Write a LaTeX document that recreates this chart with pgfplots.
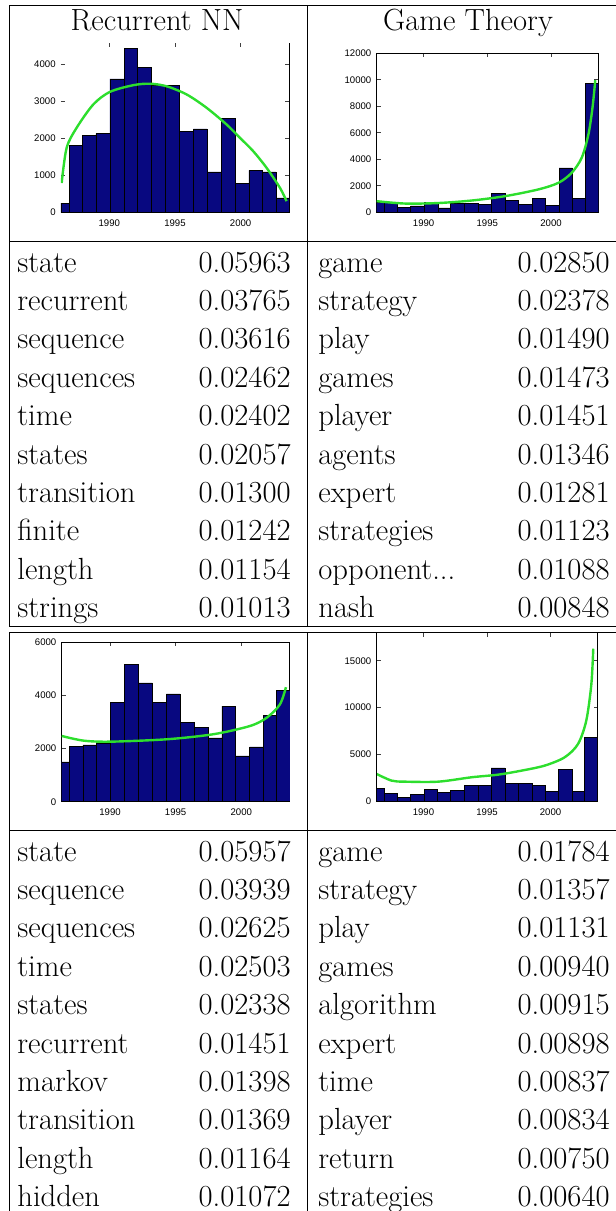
\documentclass[border=0pt]{standalone}
\usepackage{fontspec}
\usepackage{pgfplots}
\pgfplotsset{compat=1.18}
\newfontfamily\tickfont{Liberation Sans}
\definecolor{barblue}{RGB}{8,8,128}
\definecolor{fitgreen}{RGB}{45,222,45}
\newcommand\opp{opponent...}

\pgfplotsset{hist/.style={
  scale only axis, anchor=south west,
  xmin=1986.32, xmax=2003.71, ymin=0,
  xtick={1990,1995,2000},
  tick align=inside, major tick length=2pt,
  scaled ticks=false,
  /pgf/number format/1000 sep={},
  /pgf/number format/assume math mode=true,
  ticklabel style={font=\tickfont\fontsize{4.8}{5}\selectfont, inner sep=0pt, text=black},
  xticklabel style={yshift=-3.5pt},
  yticklabel style={xshift=-2.5pt},
  axis line style={line width=0.5pt},
  tick style={line width=0.4pt, black!75},
  clip mode=individual},
  bars/.style={ybar interval, fill=barblue, draw=black, line width=0.3pt},
  fit/.style={smooth, fitgreen, line width=1.2pt, no marks}}

\begin{document}
\begin{tikzpicture}[x=0.5pt, y=-0.5pt, wd/.style={font=\fontsize{15.3}{18}\selectfont, inner sep=0pt}]
\path[use as bounding box] (0,0) rectangle (616,1211);

% table rules
\begin{scope}[line width=0.5pt]
\draw (9,5) -- (632,5);
\draw (9,241) -- (632,241);
\draw (9,626) -- (632,626);
\draw (9,632) -- (632,632);
\draw (9,830) -- (632,830);
\foreach \x in {9,307,629} {
  \draw (\x,5) -- (\x,626);
  \draw (\x,632) -- (\x,1220);
}
\end{scope}

\node[wd, anchor=base] at (157,30) {Recurrent NN};
\node[wd, anchor=base] at (468,30) {Game Theory};

% upper left: Recurrent NN
\begin{axis}[hist, at={(30.5pt,-106.15pt)}, width=114.15pt, height=84.5pt,
  ymax=4560, ytick={0,1000,2000,3000,4000}, axis line style={draw=none}]
\addplot[bars] coordinates {
 (1986.32,250) (1986.93,1800) (1987.94,2070) (1988.98,2120) (1990.05,3600)
 (1991.12,4420) (1992.13,3900) (1993.22,3430) (1994.29,3430) (1995.33,2190)
 (1996.40,2250) (1997.46,1090) (1998.53,2530) (1999.57,790) (2000.63,1130)
 (2001.68,1090) (2002.69,390) (2003.71,0)};
\addplot[fit] coordinates {
 (1986.37,790) (1986.75,1740) (1987.51,2280) (1988.78,2910) (1990.05,3250)
 (1991.83,3430) (1993.10,3470) (1994.37,3400) (1995.89,3180) (1997.41,2820)
 (1998.93,2370) (1999.95,2010) (2000.96,1650) (2001.98,1200) (2003.00,660)
 (2003.50,300)};
\draw[line width=0.5pt] (rel axis cs:0,0) -- (rel axis cs:1,0) -- (rel axis cs:1,1);
\end{axis}

% upper right: Game Theory
\begin{axis}[hist, at={(188.35pt,-106.15pt)}, width=110.8pt, height=79.5pt,
  ymax=12000, ytick={0,2000,4000,6000,8000,10000,12000}]
\addplot[bars] coordinates {
 (1986.32,750) (1986.93,750) (1987.94,350) (1988.98,480) (1990.05,725)
 (1991.12,340) (1992.13,680) (1993.22,680) (1994.29,600) (1995.33,1435)
 (1996.40,880) (1997.46,600) (1998.53,1060) (1999.57,500) (2000.63,3350)
 (2001.68,1060) (2002.69,9700) (2003.71,0)};
\addplot[fit] coordinates {
 (1986.32,840) (1988.55,660) (1991.16,700) (1993.78,890) (1996.40,1220)
 (1999.02,1730) (2000.59,2230) (2001.63,2990) (2002.42,4140) (2002.94,5910)
 (2003.26,7940) (2003.47,9970)};
\end{axis}

% lower left: Recurrent NN
\begin{axis}[hist, at={(30.85pt,-400.85pt)}, width=114.15pt, height=79.7pt,
  ymax=6000, ytick={0,2000,4000,6000}]
\addplot[bars] coordinates {
 (1986.32,1500) (1986.93,2075) (1987.94,2140) (1988.98,2190) (1990.05,3725)
 (1991.12,5160) (1992.13,4475) (1993.22,3725) (1994.29,4060) (1995.33,2975)
 (1996.40,2810) (1997.46,2400) (1998.53,3600) (1999.57,1725) (2000.63,2060)
 (2001.68,3260) (2002.69,4190) (2003.71,0)};
\addplot[fit] coordinates {
 (1986.32,2475) (1987.97,2300) (1990.00,2260) (1994.31,2350) (1997.87,2540)
 (2000.66,2850) (2001.93,3160) (2002.94,3660) (2003.40,4310)};
\end{axis}

% lower right: Game Theory
\begin{axis}[hist, at={(188.35pt,-400.5pt)}, width=110.5pt, height=83.85pt,
  ymax=17950, ytick={0,5000,10000,15000}, axis line style={draw=none}]
\addplot[bars] coordinates {
 (1986.32,1390) (1986.93,820) (1987.94,390) (1988.98,750) (1990.05,1250)
 (1991.12,930) (1992.13,1100) (1993.22,1710) (1994.29,1710) (1995.33,3540)
 (1996.40,1890) (1997.46,1890) (1998.53,1710) (1999.57,1040) (2000.63,3360)
 (2001.68,1040) (2002.69,6820) (2003.71,0)};
\addplot[fit] coordinates {
 (1986.32,2890) (1987.50,2180) (1988.55,2070) (1991.16,2070) (1993.78,2540)
 (1995.87,2820) (1997.71,3250) (1999.54,3790) (2001.11,4680) (2002.16,6100)
 (2002.81,8600) (2003.21,12500) (2003.36,16300)};
\draw[line width=0.5pt] (rel axis cs:0,1) -- (rel axis cs:0,0) -- (rel axis cs:1,0) -- (rel axis cs:1,1);
\end{axis}

% word lists
\foreach \w/\v [count=\i from 0] in {state/0.05963, recurrent/0.03765, sequence/0.03616,
  sequences/0.02462, time/0.02402, states/0.02057, transition/0.01300, finite/0.01242,
  length/0.01154, strings/0.01013} {
  \node[wd, anchor=base west] at (17,272+38.4*\i) {\w};
  \node[wd, anchor=base east] at (291,272+38.4*\i) {\v};
}
\foreach \w/\v [count=\i from 0] in {game/0.02850, strategy/0.02378, play/0.01490,
  games/0.01473, player/0.01451, agents/0.01346, expert/0.01281, strategies/0.01123,
  \opp/0.01088, nash/0.00848} {
  \node[wd, anchor=base west] at (318,272+38.4*\i) {\w};
  \node[wd, anchor=base east] at (610,272+38.4*\i) {\v};
}
\foreach \w/\v [count=\i from 0] in {state/0.05957, sequence/0.03939, sequences/0.02625,
  time/0.02503, states/0.02338, recurrent/0.01451, markov/0.01398, transition/0.01369,
  length/0.01164, hidden/0.01072} {
  \node[wd, anchor=base west] at (17,861+38.4*\i) {\w};
  \node[wd, anchor=base east] at (291,861+38.4*\i) {\v};
}
\foreach \w/\v [count=\i from 0] in {game/0.01784, strategy/0.01357, play/0.01131,
  games/0.00940, algorithm/0.00915, expert/0.00898, time/0.00837, player/0.00834,
  return/0.00750, strategies/0.00640} {
  \node[wd, anchor=base west] at (318,861+38.4*\i) {\w};
  \node[wd, anchor=base east] at (610,861+38.4*\i) {\v};
}
\end{tikzpicture}
\end{document}
